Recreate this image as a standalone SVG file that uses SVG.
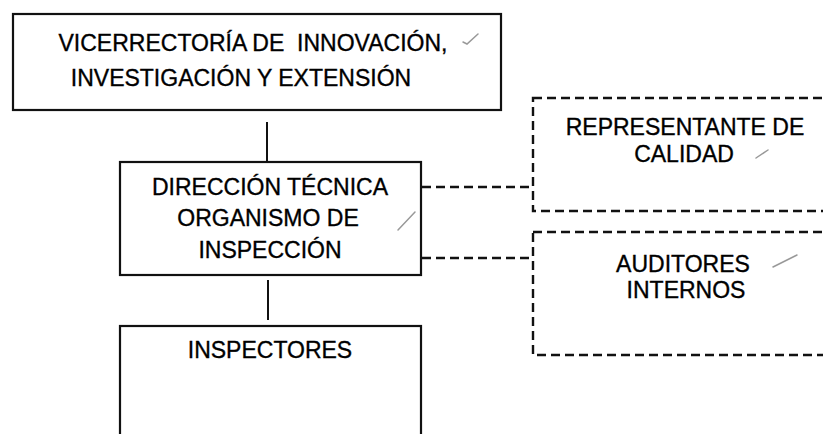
<svg xmlns="http://www.w3.org/2000/svg" width="823" height="434" viewBox="0 0 823 434">
<style>
.box{fill:#fff;stroke:#111;stroke-width:2.2}
.dbox{fill:none;stroke:#111;stroke-width:2.4;stroke-dasharray:9 5}
.ln{stroke:#111;stroke-width:2;fill:none}
.dln{stroke:#111;stroke-width:2.4;fill:none;stroke-dasharray:9 5}
.t{font-family:"Liberation Sans",Arial,sans-serif;font-size:23px;fill:#000;stroke:#000;stroke-width:0.35;text-anchor:middle}
.tick{stroke:#999;stroke-width:1.5;fill:none;stroke-linecap:round}
</style>
<rect width="823" height="434" fill="#fff"/>
<g id="connectors">
<line class="ln" x1="267" y1="122" x2="267" y2="162"/>
<line class="ln" x1="268" y1="280" x2="268" y2="320"/>
<line class="dln" x1="422" y1="187" x2="533" y2="187"/>
<line class="dln" x1="422" y1="258" x2="533" y2="258"/>
</g>
<g id="vicerrectoria">
<rect class="box" x="13" y="14" width="488" height="96"/>
<text class="t" xml:space="preserve" x="253" y="51">VICERRECTORÍA DE  INNOVACIÓN,</text>
<text class="t" x="241" y="86">INVESTIGACIÓN Y EXTENSIÓN</text>
<path class="tick" d="M463 42 L467 44 L478 34"/>
</g>
<g id="direccion">
<rect class="box" x="120" y="162" width="301" height="113"/>
<text class="t" x="270" y="195">DIRECCIÓN TÉCNICA</text>
<text class="t" x="268" y="226">ORGANISMO DE</text>
<text class="t" x="270" y="258">INSPECCIÓN</text>
<path class="tick" d="M398 230 L415 212"/>
</g>
<g id="representante">
<rect class="dbox" x="533" y="98" width="302" height="113"/>
<text class="t" x="685" y="135">REPRESENTANTE DE</text>
<text class="t" x="684" y="162">CALIDAD</text>
<path class="tick" d="M756 158 L768 150"/>
</g>
<g id="auditores">
<rect class="dbox" x="533" y="232" width="302" height="123"/>
<text class="t" x="683" y="272">AUDITORES</text>
<text class="t" x="686" y="298">INTERNOS</text>
<path class="tick" d="M773 267 L797 255"/>
</g>
<g id="inspectores">
<rect class="box" x="120" y="326" width="301" height="130"/>
<text class="t" x="270" y="358">INSPECTORES</text>
</g>
</svg>
